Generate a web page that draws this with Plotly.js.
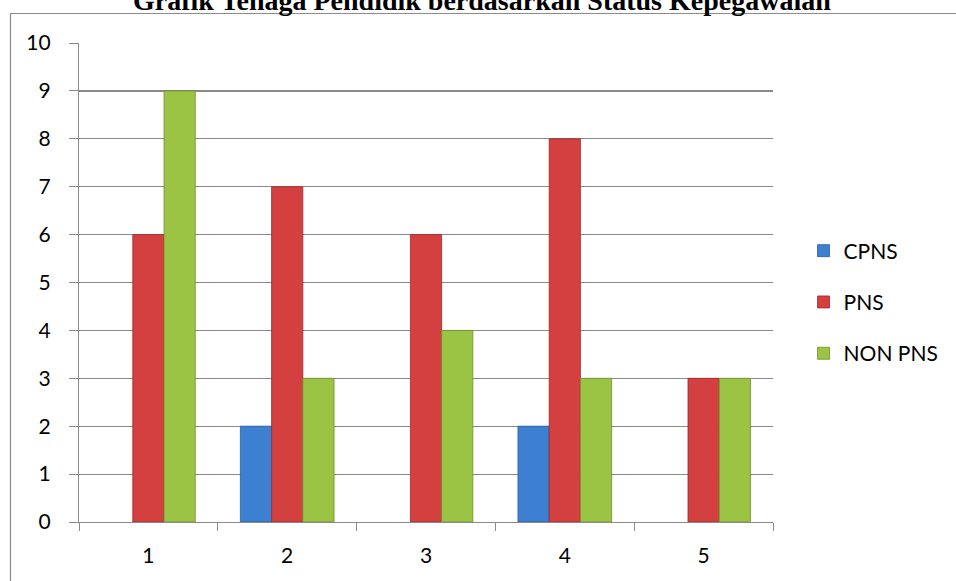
<!DOCTYPE html>
<html>
<head>
<meta charset="utf-8">
<script src="https://cdn.plot.ly/plotly-3.0.1.min.js"></script>
<style>html,body{margin:0;padding:0;background:#fff;}#chart{width:956px;height:581px;}</style>
</head>
<body>
<div id="chart"></div>
<script>
const categories = ['1', '2', '3', '4', '5'];
const seriesNames = ['CPNS', 'PNS', 'NON PNS'];
const cpns = [null, 2, null, 2, null];
const pns = [6, 7, 6, 8, 3];
const nonPns = [9, 3, 4, 3, 3];
const yTicks = [0, 1, 2, 3, 4, 5, 6, 7, 8, 9, 10];
const chartTitle = 'Grafik Tenaga Pendidik berdasarkan Status Kepegawaian';

const colors = ['#3d7fd1', '#d43f40', '#9bc445'];
const lineColors = ['#2a5e9e', '#9e2a2b', '#6f8f2c'];
const values = [cpns, pns, nonPns];

const traces = seriesNames.map((name, i) => ({
  type: 'bar',
  name: name,
  x: categories,
  y: values[i],
  legendgroup: 'g' + i,
  marker: {color: colors[i], line: {color: lineColors[i], width: 0.8}},
  hoverinfo: 'x+y+name'
}));

const font = {family: 'Lato, "Noto Sans", sans-serif', color: '#000', size: 21};

const layout = {
  width: 956, height: 581,
  margin: {l: 79, r: 178, t: 43, b: 59},
  paper_bgcolor: '#fff', plot_bgcolor: '#fff',
  font: font,
  showlegend: true,
  barmode: 'group', bargap: 0.325, bargroupgap: 0,
  xaxis: {
    type: 'category', tickvals: categories, ticktext: categories,
    showline: true, linecolor: '#8a8a8a', linewidth: 1.2,
    ticks: 'outside', tickson: 'boundaries', ticklen: 8, tickcolor: '#8a8a8a',
    ticklabelstandoff: 15,
    showgrid: false, zeroline: false, tickfont: {size: 21},
    fixedrange: true
  },
  yaxis: {
    range: [0, 10], tickvals: yTicks, ticktext: yTicks.map(String),
    showline: true, linecolor: '#8a8a8a', linewidth: 1.2,
    ticks: 'outside', ticklen: 9, tickcolor: '#8a8a8a',
    ticklabelstandoff: 14,
    showgrid: true, gridcolor: '#8a8a8a', gridwidth: 1.2,
    zeroline: false, tickfont: {size: 21}, fixedrange: true
  },
  legend: {
    x: 1.044, xanchor: 'left', y: (522 - 302) / 479, yanchor: 'middle',
    traceorder: 'grouped', tracegroupgap: 21,
    font: {size: 21}, bgcolor: 'rgba(0,0,0,0)'
  },
  shapes: [{
    type: 'rect', xref: 'paper', yref: 'paper',
    x0: (10 - 79) / 699, x1: 1.6, y0: -0.5, y1: (522 - 13.5) / 479,
    line: {color: '#8c8c8c', width: 1.2}, fillcolor: 'rgba(0,0,0,0)', layer: 'below'
  }],
  annotations: [{
    text: '<b>' + chartTitle + '</b>',
    xref: 'paper', yref: 'paper', x: (485 - 79) / 699, y: (522 - 18) / 479,
    xanchor: 'center', yanchor: 'bottom', showarrow: false,
    font: {family: '"Liberation Serif", "DejaVu Serif", serif', size: 28, color: '#000'}
  }]
};

Plotly.newPlot('chart', traces, layout, {displayModeBar: false, staticPlot: true});
</script>
</body>
</html>
